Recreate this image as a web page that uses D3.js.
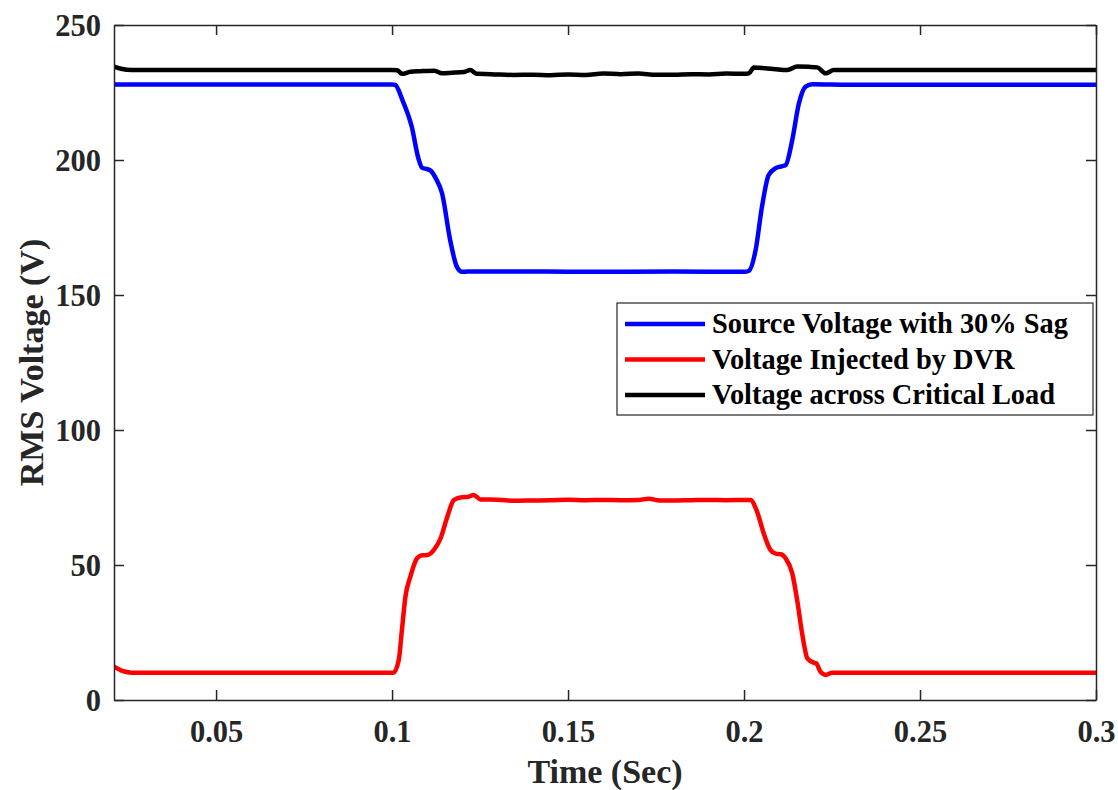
<!DOCTYPE html>
<html><head><meta charset="utf-8">
<script src="https://cdn.jsdelivr.net/npm/d3@7"></script>
<style>
html,body{margin:0;padding:0;background:#fff;}
svg{display:block;}
text{font-family:"Liberation Serif","Times New Roman",serif;font-weight:bold;}
</style></head>
<body>
<svg id="chart" width="1118" height="790"></svg>
<script>
// ---- data ----
const xTicks = [0.05, 0.1, 0.15, 0.2, 0.25, 0.3];
const xTickLabels = ["0.05", "0.1", "0.15", "0.2", "0.25", "0.3"];
const yTicks = [0, 50, 100, 150, 200, 250];
const seriesNames = ["Source Voltage with 30% Sag", "Voltage Injected by DVR", "Voltage across Critical Load"];
const seriesColors = ["#0000ff", "#ff0000", "#000000"];

const sourceT = [0.021, 0.05, 0.1, 0.1009, 0.1030, 0.1056, 0.1075, 0.1085, 0.1100, 0.1110, 0.1125, 0.1142, 0.1165, 0.1184, 0.1199, 0.1215, 0.14, 0.16, 0.18, 0.2, 0.2014, 0.2033, 0.2051, 0.2070, 0.2089, 0.2105, 0.2118, 0.2137, 0.2156, 0.2175, 0.2194, 0.23, 0.26, 0.3];
const sourceV = [228, 228, 228, 227.8, 222, 212.3, 200.5, 197.2, 196.6, 196, 193, 187.7, 170.4, 160.5, 158.6, 158.7, 158.7, 158.6, 158.7, 158.6, 159, 166.7, 182.7, 194.4, 196.9, 197.6, 198.1, 207.4, 221, 227.2, 228.1, 227.9, 227.9, 227.9];

const dvrT = [0.021, 0.023, 0.025, 0.027, 0.05, 0.1, 0.1004, 0.1019, 0.1028, 0.1038, 0.1052, 0.1071, 0.1085, 0.1100, 0.1119, 0.1138, 0.1157, 0.1176, 0.1199, 0.1215, 0.1232, 0.1251, 0.13, 0.135, 0.14, 0.145, 0.15, 0.155, 0.16, 0.165, 0.17, 0.173, 0.176, 0.18, 0.185, 0.19, 0.195, 0.2, 0.2018, 0.2037, 0.2056, 0.2075, 0.2090, 0.2105, 0.2118, 0.2137, 0.2151, 0.2165, 0.2180, 0.2198, 0.2205, 0.2217, 0.2232, 0.2251, 0.23, 0.26, 0.3];
const dvrV = [12.3, 11, 10.3, 10.1, 10.1, 10.1, 10.1, 14.8, 25.9, 38.3, 45.7, 52.5, 53.6, 53.7, 55.6, 59.9, 67.9, 74.1, 75.1, 75.2, 75.9, 74.3, 74.2, 73.8, 73.9, 74.0, 74.2, 74.0, 74.1, 74.0, 74.1, 74.5, 73.9, 73.9, 74.0, 74.1, 74.0, 74.1, 74.1, 69.8, 61.7, 55.6, 54.2, 54.0, 52.5, 46.9, 37, 24.7, 15.4, 13.8, 13.6, 10.5, 9.3, 10.1, 10.1, 10.1, 10.1];

const loadT = [0.021, 0.023, 0.026, 0.05, 0.1, 0.1015, 0.1028, 0.1052, 0.108, 0.112, 0.1142, 0.117, 0.1205, 0.1222, 0.1241, 0.128, 0.1345, 0.14, 0.145, 0.15, 0.155, 0.16, 0.165, 0.17, 0.175, 0.18, 0.185, 0.19, 0.195, 0.2, 0.2014, 0.2028, 0.206, 0.209, 0.2123, 0.2151, 0.2185, 0.2208, 0.2232, 0.2255, 0.23, 0.26, 0.3];
const loadV = [234.6, 233.8, 233.3, 233.3, 233.3, 233.2, 231.9, 232.7, 232.9, 233.1, 232.1, 232.3, 232.6, 233.3, 231.9, 231.8, 231.5, 231.6, 231.4, 231.7, 231.5, 232.0, 231.8, 232.0, 231.6, 231.6, 231.8, 231.7, 232.0, 231.9, 232.1, 234.3, 234.0, 233.6, 233.3, 234.6, 234.5, 234.3, 232.1, 233.3, 233.3, 233.3, 233.3];

// ---- layout ----
const svg = d3.select("#chart");
const L = 114, R = 1096, T = 25, B = 700;
const x = d3.scaleLinear().domain([0.021, 0.3]).range([L, R]);
const y = d3.scaleLinear().domain([0, 250]).range([B, T]);
const axisColor = "#262626";

const g = svg.append("g");

// lines
const series = [
  {t: sourceT, v: sourceV},
  {t: dvrT, v: dvrV},
  {t: loadT, v: loadV}
];
const line = d3.line().x(d => x(d[0])).y(d => y(d[1])).curve(d3.curveMonotoneX);
svg.append("defs").append("clipPath").attr("id", "clip")
  .append("rect").attr("x", L).attr("y", T).attr("width", R - L).attr("height", B - T);
series.forEach((s, i) => {
  const pts = s.t.map((t, k) => [t, s.v[k]]);
  g.append("path").datum(pts)
    .attr("d", line)
    .attr("fill", "none")
    .attr("stroke", seriesColors[i])
    .attr("stroke-width", 4.5)
    .attr("stroke-linejoin", "round")
    .attr("stroke-linecap", "round")
    .attr("clip-path", "url(#clip)");
});

// axes (ticks inward, box)
const xAxisB = d3.axisBottom(x).tickValues(xTicks).tickFormat((d, i) => xTickLabels[i]).tickSizeInner(-10).tickSizeOuter(0).tickPadding(20);
const xAxisT = d3.axisTop(x).tickValues(xTicks).tickFormat("").tickSizeInner(-10).tickSizeOuter(0);
const yAxisL = d3.axisLeft(y).tickValues(yTicks).tickSizeInner(-10).tickSizeOuter(0).tickPadding(13);
const yAxisR = d3.axisRight(y).tickValues(yTicks).tickFormat("").tickSizeInner(-10).tickSizeOuter(0);

function style(sel) {
  sel.selectAll("path").attr("stroke", axisColor).attr("stroke-width", 1.5);
  sel.selectAll("line").attr("stroke", axisColor).attr("stroke-width", 1.5);
  sel.selectAll("text").attr("fill", axisColor).style("font-size", "30.5px").style("font-family", "'Liberation Serif','Times New Roman',serif").style("font-weight", "bold");
}
const gxb = svg.append("g").attr("transform", `translate(0,${B})`).call(xAxisB); style(gxb);
gxb.selectAll("text").attr("dy", "0.71em").attr("y", 20);
const gxt = svg.append("g").attr("transform", `translate(0,${T})`).call(xAxisT); style(gxt);
const gyl = svg.append("g").attr("transform", `translate(${L},0)`).call(yAxisL); style(gyl);
gyl.selectAll("text").attr("dy", "0.35em");
const gyr = svg.append("g").attr("transform", `translate(${R},0)`).call(yAxisR); style(gyr);
// remove tick at corners duplicates are fine

// axis labels
svg.append("text").attr("x", (L + R) / 2).attr("y", 783)
  .attr("text-anchor", "middle").attr("fill", axisColor)
  .style("font-size", "34px").text("Time (Sec)");
svg.append("text").attr("transform", `translate(43,${(T + B) / 2}) rotate(-90)`)
  .attr("text-anchor", "middle").attr("fill", axisColor)
  .style("font-size", "34px").text("RMS Voltage (V)");

// legend
const lg = svg.append("g");
lg.append("rect").attr("x", 617).attr("y", 303).attr("width", 476).attr("height", 112)
  .attr("fill", "#fff").attr("stroke", axisColor).attr("stroke-width", 1.2);
const rowY = [324, 359.5, 395];
seriesNames.forEach((name, i) => {
  lg.append("line").attr("x1", 625).attr("x2", 705).attr("y1", rowY[i]).attr("y2", rowY[i])
    .attr("stroke", seriesColors[i]).attr("stroke-width", 4.5);
  lg.append("text").attr("x", 712).attr("y", rowY[i]).attr("dy", "0.33em")
    .attr("fill", "#000").style("font-size", "28.4px").text(name);
});
</script>
</body></html>
